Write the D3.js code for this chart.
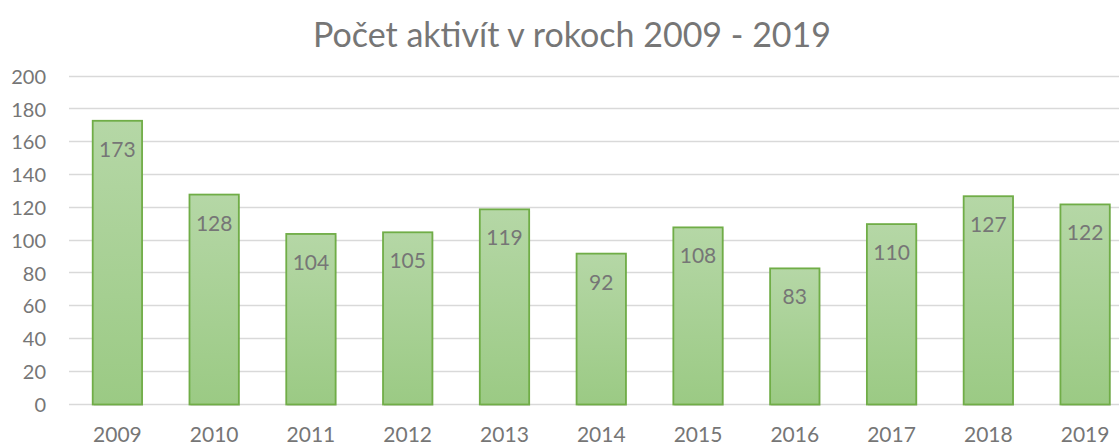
<!DOCTYPE html>
<html>
<head>
<meta charset="utf-8">
<script src="https://cdn.jsdelivr.net/npm/d3@7"></script>
<style>
    body { margin: 0; background: #fff; }
    svg { display: block; font-family: Lato, "Open Sans", sans-serif; }
</style>
</head>
<body>
<div id="canvas"></div>
<script>
// data
const years = ["2009", "2010", "2011", "2012", "2013", "2014", "2015", "2016", "2017", "2018", "2019"];
const counts = [173, 128, 104, 105, 119, 92, 108, 83, 110, 127, 122];
const yTicks = [0, 20, 40, 60, 80, 100, 120, 140, 160, 180, 200];

const width = 1119, height = 445;
const plotLeft = 69, plotRight = 1133.5, plotTop = 76.5, plotBottom = 404.5;
const textColor = '#767676';

const svg = d3.select('#canvas').append('svg')
    .attr('width', width)
    .attr('height', height);

const defs = svg.append('defs');
const grad = defs.append('linearGradient')
    .attr('id', 'barFill')
    .attr('x1', 0).attr('y1', 0).attr('x2', 0).attr('y2', 1);
grad.append('stop').attr('offset', '0%').attr('stop-color', '#b5d7a6');
grad.append('stop').attr('offset', '100%').attr('stop-color', '#9bca84');

const x = d3.scaleBand()
    .domain(years)
    .range([plotLeft, plotRight])
    .paddingInner(0.49)
    .paddingOuter(0.245);

const y = d3.scaleLinear()
    .domain([0, 200])
    .range([plotBottom, plotTop]);

// title
svg.append('text')
    .attr('x', 572)
    .attr('y', 47)
    .attr('text-anchor', 'middle')
    .style('font-size', '34px')
    .style('fill', textColor)
    .text('Počet aktivít v rokoch 2009 - 2019');

// grid
svg.append('g')
    .selectAll('line')
    .data(yTicks)
    .enter()
    .append('line')
    .attr('x1', plotLeft)
    .attr('x2', width)
    .attr('y1', d => Math.round(y(d)) - 0.5)
    .attr('y2', d => Math.round(y(d)) - 0.5)
    .style('stroke', '#d9d9d9')
    .style('stroke-width', 1.3);

// y labels
svg.append('g')
    .selectAll('text')
    .data(yTicks)
    .enter()
    .append('text')
    .attr('x', 46)
    .attr('y', d => y(d))
    .attr('dy', '0.36em')
    .attr('text-anchor', 'end')
    .style('font-size', '20px')
    .style('fill', textColor)
    .text(d => d);

// bars
const bars = svg.append('g')
    .selectAll('rect')
    .data(counts)
    .enter();

bars.append('rect')
    .attr('x', (d, i) => x(years[i]) + 1)
    .attr('y', d => y(d) + 1.5)
    .attr('width', x.bandwidth())
    .attr('height', d => y(0) - y(d))
    .style('fill', '#000')
    .style('opacity', 0.1);

bars.append('rect')
    .attr('x', (d, i) => x(years[i]))
    .attr('y', d => y(d))
    .attr('width', x.bandwidth())
    .attr('height', d => y(0) - y(d))
    .style('fill', 'url(#barFill)')
    .style('stroke', '#70ad47')
    .style('stroke-width', 1.8);

// value labels
svg.append('g')
    .selectAll('text')
    .data(counts)
    .enter()
    .append('text')
    .attr('x', (d, i) => x(years[i]) + x.bandwidth() / 2)
    .attr('y', d => y(d) + 36)
    .attr('text-anchor', 'middle')
    .style('font-size', '21px')
    .style('fill', textColor)
    .text(d => d);

// x labels
svg.append('g')
    .selectAll('text')
    .data(years)
    .enter()
    .append('text')
    .attr('x', d => x(d) + x.bandwidth() / 2)
    .attr('y', 442)
    .attr('text-anchor', 'middle')
    .style('font-size', '21px')
    .style('fill', textColor)
    .text(d => d);
</script>
</body>
</html>
